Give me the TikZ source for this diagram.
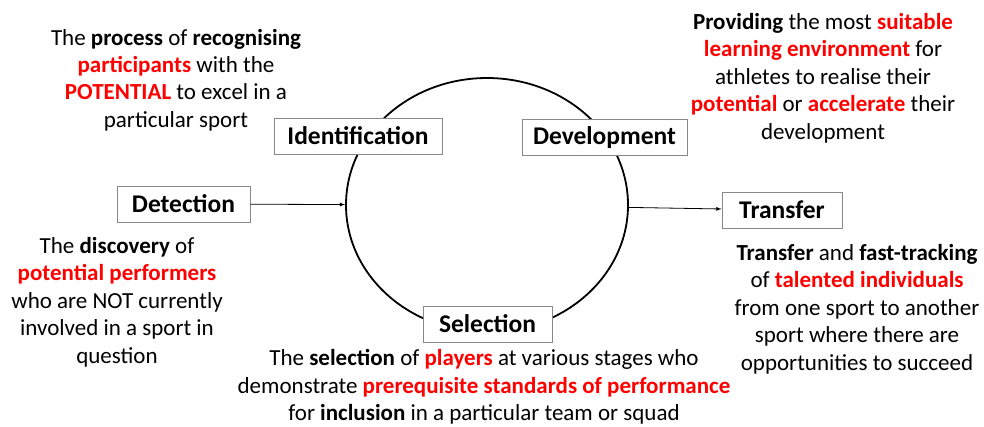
\documentclass[tikz,border=0pt]{standalone}
\usepackage{fontspec,xcolor}
\setmainfont{Carlito}
\usetikzlibrary{shapes.geometric}
\NewDocumentCommand\hl{m}{\textcolor{red}{\textbf{#1}}}
\definecolor{boxgray}{RGB}{136,136,136}

\begin{document}
\begin{tikzpicture}[>=latex, x=1pt, y=-1pt,
    stage/.style={draw=boxgray, line width=0.8pt, fill=white, minimum height=36pt,
      font=\fontsize{25.5}{30}\selectfont\bfseries},
    note/.style={align=center, font=\fontsize{23}{27.4}\selectfont, inner sep=0pt}]
        \useasboundingbox (0,0) rectangle (984,426);
        \node (cyc) at (487,205) [draw, ellipse, line width=1.8pt, minimum width=282pt,
          minimum height=254pt, inner sep=0pt] {};
        \node (iden) at (358,136) [stage, minimum width=168pt] {Identification};
        \node (dev) at (604.5,137.5) [stage, minimum width=165pt] {Development};
        \node (det) at (183.5,204) [stage, minimum width=133pt] {Detection};
        \node (tra) at (782,210) [stage, minimum width=120pt] {Transfer};
        \node (sel) at (487.5,324) [stage, minimum width=129pt] {Selection};
        \draw[->, line width=0.8pt] (det) -- (cyc);
        \draw[->, line width=0.8pt] (cyc) -- (tra);
        \node (idtxt) at (176,80) [note] {The \textbf{process} of \textbf{recognising}\\
          \hl{participants} with the\\ \hl{POTENTIAL} to excel in a\\ particular sport};
        \node (devtxt) at (823,78) [note] {\textbf{Providing} the most \hl{suitable}\\
          \hl{learning environment} for\\ athletes to realise their\\
          \hl{potential} or \hl{accelerate} their\\ development};
        \node (dettxt) at (117,302) [note] {The \textbf{discovery} of\\
          \hl{potential performers}\\ who are NOT currently\\ involved in a sport in\\ question};
        \node (seltxt) at (484,387) [note] {The \textbf{selection} of \hl{players} at various stages who\\
          demonstrate \hl{prerequisite standards of performance}\\
          for \textbf{inclusion} in a particular team or squad};
        \node (tratxt) at (857,309) [note] {\textbf{Transfer} and \textbf{fast-tracking}\\
          of \hl{talented individuals}\\ from one sport to another\\
          sport where there are\\ opportunities to succeed};
    \end{tikzpicture}
\end{document}
